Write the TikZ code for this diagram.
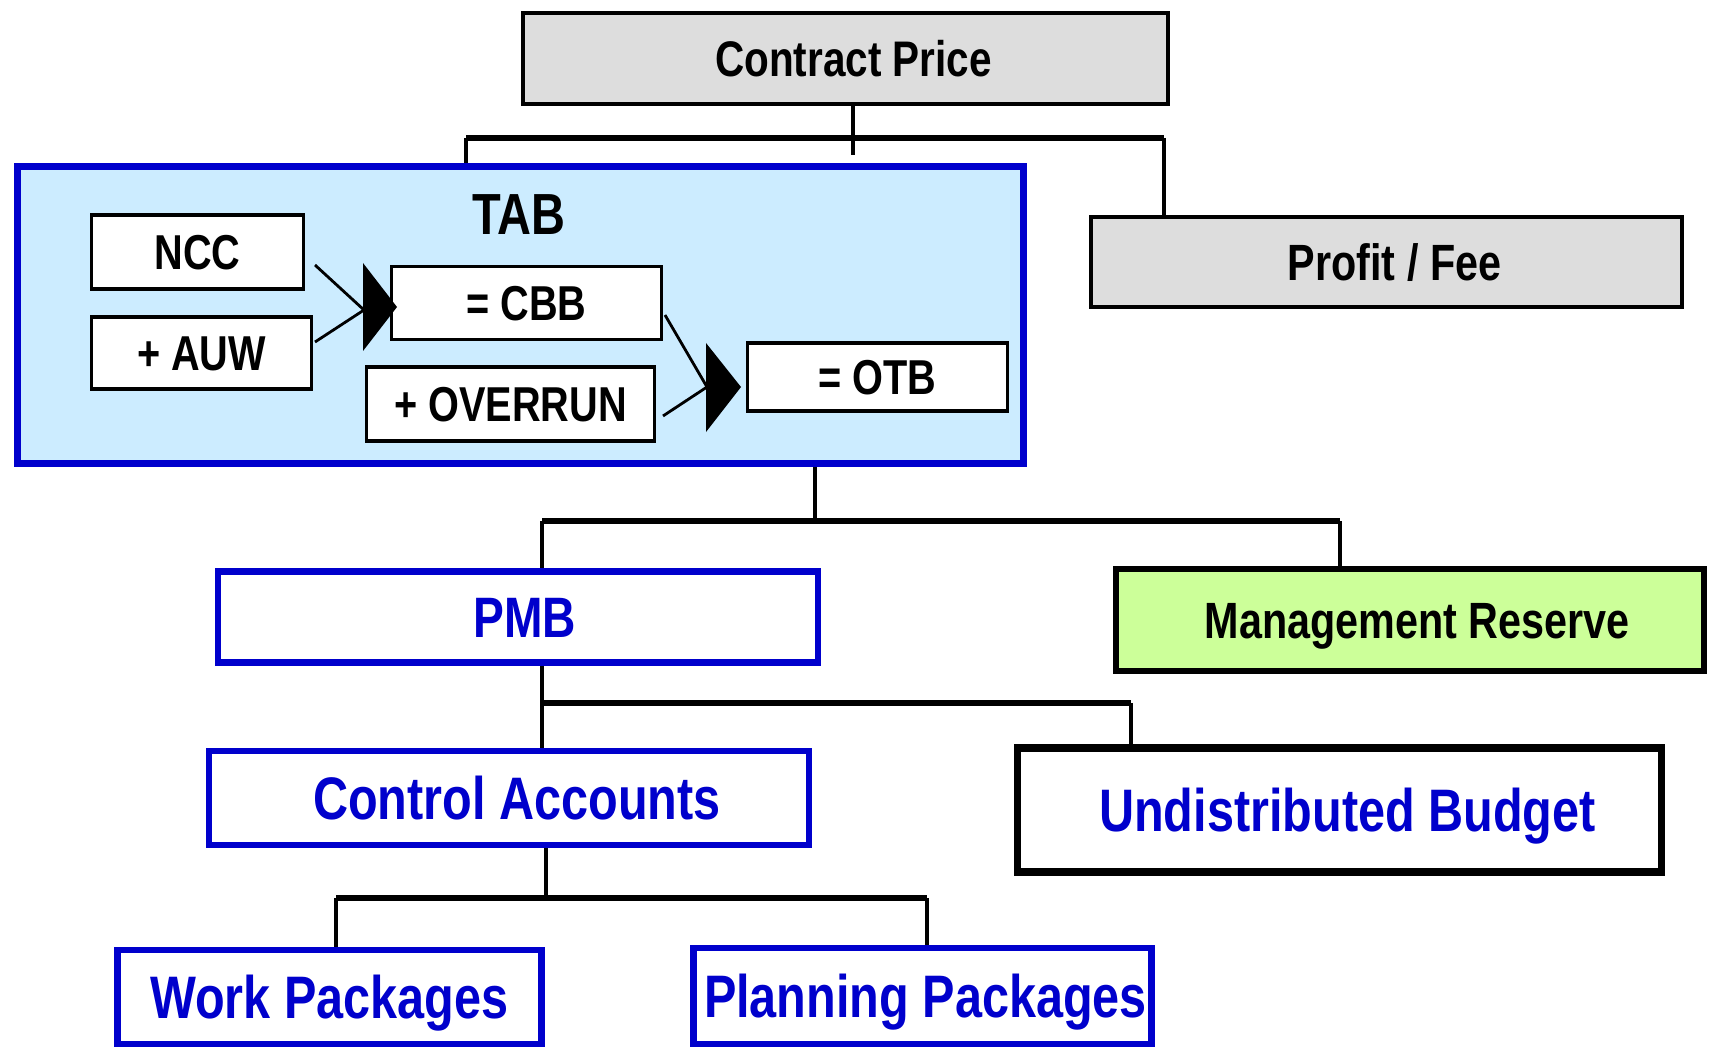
\documentclass[tikz,border=0pt]{standalone}
\usepackage{fontspec}
\newfontfamily\narrowsans{Liberation Sans}[FakeStretch=0.81]
\definecolor{boxgrey}{HTML}{DDDDDD}
\definecolor{tabfill}{HTML}{CCECFF}
\definecolor{deepblue}{HTML}{0000CC}
\definecolor{reservegreen}{HTML}{CCFF99}
\tikzset{
  lbl/.style={font=\narrowsans\bfseries\fontsize{#1}{#1}\selectfont, inner sep=0pt, text depth=0pt},
  nudge/.style={execute at begin node=\hspace*{#1}},
  basebox/.style={rectangle, inner sep=0pt, draw=black},
  greybox/.style={basebox, fill=boxgrey, line width=2.4pt},
  smallbox/.style={basebox, fill=white, line width=1.8pt, lbl=24.5, text height=17.54pt},
  bluebox/.style={basebox, fill=white, draw=deepblue, line width=3.4pt, text=deepblue},
  vline/.style={line width=2.2pt},
  hbar/.style={line width=3pt},
  feed/.style={line width=1.4pt},
}
\begin{document}
\begin{tikzpicture}[x=0.5pt, y=-0.5pt]
\useasboundingbox (0,0) rectangle (1709,1048);

% top level
\node[greybox, minimum width=322.5pt, minimum height=45.5pt, lbl=25, text height=17.9pt, nudge=8pt] (cp) at (845.5,58.5) {Contract Price};
\node[greybox, minimum width=295.5pt, minimum height=45pt, lbl=25.5, text height=18.26pt, nudge=8pt] (pf) at (1386.5,262) {Profit / Fee};

% total allocated budget frame
\node[basebox, fill=tabfill, draw=deepblue, line width=3.6pt, minimum width=503pt, minimum height=148.5pt] (tab) at (520.5,315) {};
\node[lbl=29, text height=20.76pt] (tabtitle) at (519,214) {TAB};

% budget build-up inside the frame
\node[smallbox, minimum width=106pt, minimum height=37pt] (ncc) at (197.5,252) {NCC};
\node[smallbox, minimum width=110pt, minimum height=36pt] (auw) at (201.5,353) {+ AUW};
\node[smallbox, minimum width=135pt, minimum height=36.5pt] (cbb) at (526.5,303) {= CBB};
\node[smallbox, minimum width=144pt, minimum height=37pt] (ovr) at (510.5,404) {+ OVERRUN};
\node[smallbox, minimum width=130pt, minimum height=34pt] (otb) at (877.5,377) {= OTB};

\coordinate (nccout) at (315,265);
\coordinate (auwout) at (315,342);
\coordinate (merge1) at (364,310);
\draw[feed] (nccout) -- (merge1);
\draw[feed] (auwout) -- (merge1);
\fill (363,263) -- (397,307) -- (363,351) -- cycle;

\coordinate (cbbout) at (665,315);
\coordinate (ovrout) at (663,416);
\coordinate (merge2) at (707,387);
\draw[feed] (cbbout) -- (merge2);
\draw[feed] (ovrout) -- (merge2);
\fill (706,343) -- (741,387) -- (706,432) -- cycle;

% lower levels
\node[bluebox, minimum width=300pt, minimum height=45.5pt, lbl=28.5, text height=20.4pt, nudge=7pt] (pmb) at (518,617) {PMB};
\node[basebox, fill=reservegreen, line width=3pt, minimum width=294pt, minimum height=51pt, lbl=25.5, text height=18.26pt, nudge=7pt] (mr) at (1410,620) {Management Reserve};
\node[bluebox, minimum width=300pt, minimum height=47pt, lbl=30, text height=21.48pt, nudge=8pt] (ca) at (509,798) {Control Accounts};
\node[basebox, fill=white, line width=3.6pt, text=deepblue, minimum width=322pt, minimum height=62pt, lbl=30, text height=21.48pt, nudge=8pt] (ub) at (1339.5,810) {Undistributed Budget};
\node[bluebox, minimum width=212pt, minimum height=47pt, lbl=30, text height=21.48pt] (wp) at (329.5,997) {Work Packages};
\node[bluebox, minimum width=229pt, minimum height=48pt, lbl=30, text height=21.48pt, nudge=3pt] (pp) at (922.5,996) {Planning Packages};

% tree connectors
\coordinate (b1l) at (466,138);
\coordinate (b1r) at (1164,138);
\coordinate (b1s) at (853,155);
\draw[vline] (cp.south -| b1s) -- (b1s);
\draw[hbar] (b1l) -- (b1r);
\draw[vline] (b1l) -- (b1l |- tab.north);
\draw[vline] (b1r) -- (b1r |- pf.north);

\coordinate (b2l) at (542,521);
\coordinate (b2r) at (1340,521);
\coordinate (b2c) at (815,521);
\draw[vline] (tab.south -| b2c) -- (b2c);
\draw[hbar] (b2l) -- (b2r);
\draw[vline] (b2l) -- (b2l |- pmb.north);
\draw[vline] (b2r) -- (b2r |- mr.north);

\coordinate (b3l) at (542,703);
\coordinate (b3r) at (1131,703);
\draw[vline] (pmb.south -| b3l) -- (ca.north -| b3l);
\draw[hbar] (b3l) -- (b3r);
\draw[vline] (b3r) -- (b3r |- ub.north);

\coordinate (b4c) at (546,898);
\coordinate (b4l) at (336,898);
\coordinate (b4r) at (927,898);
\draw[vline] (ca.south -| b4c) -- (b4c);
\draw[hbar] (b4l) -- (b4r);
\draw[vline] (b4l) -- (b4l |- wp.north);
\draw[vline] (b4r) -- (b4r |- pp.north);
\end{tikzpicture}
\end{document}
